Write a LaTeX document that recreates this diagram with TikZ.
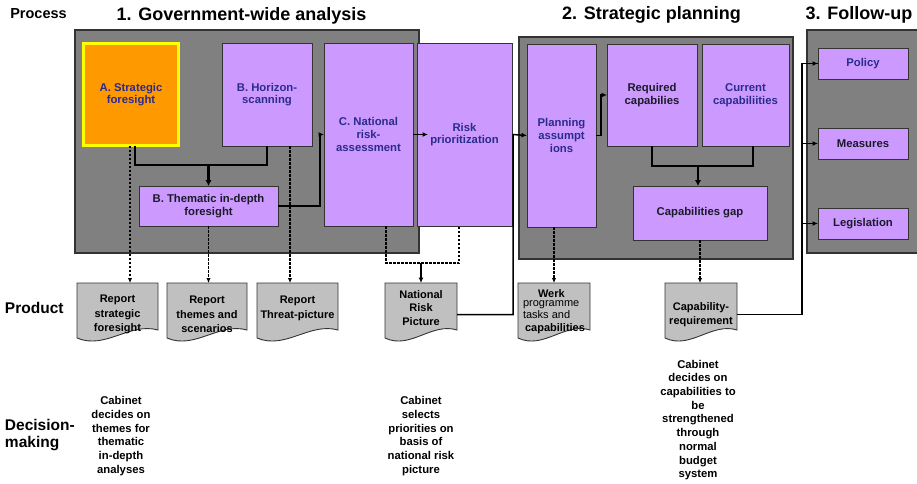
\documentclass[tikz,border=0pt]{standalone}
\usepackage{fontspec}
\setmainfont{Liberation Sans}
\usetikzlibrary{positioning,calc,arrows.meta}

\definecolor{panelgray}{HTML}{808080}
\definecolor{boxpurple}{HTML}{CC99FF}
\definecolor{docgray}{HTML}{C0C0C0}
\definecolor{foreorange}{HTML}{FF9900}
\definecolor{foreyellow}{HTML}{FFFF00}
\definecolor{navytext}{HTML}{2B2B8C}
\definecolor{darktext}{HTML}{1A1A2A}

\newcommand\boxfont{\fontsize{11.3}{12.6}\selectfont\bfseries}
\newcommand\docfont{\fontsize{11}{14.5}\selectfont\bfseries}
\newcommand\titlefont{\fontsize{18}{20}\selectfont\bfseries}
\newcommand\rowfont{\fontsize{15.5}{16.5}\selectfont\bfseries}
\newcommand\decfont{\fontsize{11.3}{13.7}\selectfont\bfseries}

\pgfdeclarelayer{background}
\pgfsetlayers{background,main}

\begin{document}
\begin{tikzpicture}[x=1pt,y=-1pt,
    every node/.style={inner sep=0pt,outer sep=0pt,align=center},
    panel/.style={draw=black!80,line width=1.2pt,fill=panelgray},
    procbox/.style={draw=black!80,line width=0.9pt,fill=boxpurple,font=\boxfont,text=darktext},
    navybox/.style={procbox,text=navytext},
    docbox/.style={minimum height=55,font=\docfont},
    docshape/.style={draw=black!80,line width=0.9pt,fill=docgray},
    link/.style={line width=1.5pt},
    arr/.style={link,-{Latex[length=5.5pt,width=5pt]}},
    bigarr/.style={line width=2.6pt,-{Latex[length=6pt,width=6.5pt]}},
    dashlink/.style={link,dash pattern=on 2.5pt off 1.5pt,-{Latex[length=5pt,width=4.5pt]}}]
    \useasboundingbox (0,0) rectangle (917,483);

    % headings
    \node[font=\fontsize{14.5}{16}\selectfont\bfseries] (process) at (38.5,14) {Process};
    \node[font=\titlefont] (phase1) at (241.5,16) {1. Government-wide analysis};
    \node[font=\titlefont] (phase2) at (651.5,15) {2. Strategic planning};
    \node[font=\titlefont] (phase3) at (859,15) {3. Follow-up};
    \node[font=\rowfont,anchor=west] (product) at (5,308) {Product};
    \node[font=\rowfont,anchor=west,align=left] (decision) at (5,435) {Decision-\\making};

    % phase panels
    \draw[panel] (75,30) rectangle (419,253);
    \draw[panel] (519,37) rectangle (793,259);
    \draw[panel] (807,30) rectangle (930,253);

    % process boxes
    \node[navybox,fill=foreorange,draw=foreyellow,line width=3pt,minimum width=95,minimum height=102] (strat) at (131,94.5) {A. Strategic\\foresight};
    \node[navybox,minimum width=90,minimum height=103] (horizon) at (267,94.5) {B. Horizon-\\scanning};
    \node[procbox,minimum width=139,minimum height=40] (thematic) at (208.5,206) {B. Thematic in-depth\\foresight};
    \node[navybox,minimum width=89,minimum height=183] (natrisk) at (368.5,134.5) {C. National\\risk-\\assessment};
    \node[navybox,minimum width=95,minimum height=183] (prior) at (464.5,134.5) {Risk\\prioritization};
    \node[navybox,minimum width=69,minimum height=183] (planning) at (561.5,135.5) {Planning\\assumpt\\ions};
    \node[procbox,minimum width=90,minimum height=102] (required) at (652,95) {Required\\capabilies};
    \node[navybox,minimum width=87,minimum height=102] (current) at (745.5,95) {Current\\capabiliities};
    \node[procbox,minimum width=134,minimum height=54] (gap) at (700,213) {Capabilities gap};
    \node[navybox,minimum width=90,minimum height=31] (policy) at (863,63.5) {Policy};
    \node[procbox,minimum width=90,minimum height=31] (measures) at (863,143.5) {Measures};
    \node[procbox,minimum width=90,minimum height=31] (legislation) at (863,223.5) {Legislation};

    % products
    \node[docbox,minimum width=81] (repstrat) at (117.5,314.5) {Report\\strategic\\foresight};
    \node[docbox,minimum width=80] (reptheme) at (207,314.5) {Report\\themes and\\scenarios};
    \node[docbox,minimum width=81] (repthreat) at (297.5,314.5) {Report\\Threat-picture\\[0pt]};
    \node[docbox,minimum width=72,font=\fontsize{11}{13.5}\selectfont\bfseries] (riskpic) at (421,314.5) {National\\Risk\\Picture\\[0pt]};
    \node[docbox,minimum width=72,align=left,font=\fontsize{11}{9.6}\selectfont] (werk) at (554,314.5) {\hspace*{15pt}\textbf{Werk}\\programme\\tasks and\\[4pt]\hspace*{2pt}\textbf{capabilities}\\[-1.6pt]};
    \node[docbox,minimum width=72] (capreq) at (701,314.5) {Capability-\\requirement};
    \begin{pgfonlayer}{background}
        \foreach \d in {repstrat,reptheme,repthreat,riskpic,werk,capreq}
            \draw[docshape] ([yshift=4pt]\d.north west) -- ([yshift=4pt]\d.north east) -- ([yshift=12pt]\d.south east)
                .. controls ($(\d.south east)!0.35!(\d.south west)+(0,-20)$) and ($(\d.south east)!0.65!(\d.south west)+(0,8)$) .. ([yshift=4pt]\d.south west) -- cycle;
    \end{pgfonlayer}

    % decisions
    \node[font=\decfont] (dec1) at (121,436) {Cabinet\\decides on\\themes for\\thematic\\in-depth\\analyses};
    \node[font=\decfont] (dec2) at (421,436) {Cabinet\\selects\\priorities on\\basis of\\national risk\\picture};
    \node[font=\decfont] (dec3) at (698,420) {Cabinet\\decides on\\capabilities to\\be\\strengthened\\through\\normal\\budget\\system};

    % connectors
    \coordinate (forejoin) at (208.5,165);
    \coordinate (capjoin) at (698,166);
    \coordinate (riskjoin) at (421,263);
    \draw[link] ([xshift=4]strat.south) |- (forejoin) -| (horizon.south);
    \draw[bigarr] (forejoin) -- (thematic.north);
    \draw[arr] (thematic.east) -- ++(42,0) |- (natrisk.west);
    \draw[arr] (natrisk.east) -- ([xshift=11]prior.west);
    \draw[arr] (riskpic.east) -| ([xshift=1]prior.east) -- (planning.west);
    \draw[arr] (planning.east) -- ++(5,0) |- (required.west);
    \draw[link] (required.south) |- (capjoin) -| ([xshift=7.5]current.south);
    \draw[bigarr] (capjoin) -- (capjoin |- gap.north);
    \draw[link] (capreq.east) -- ++(65,0) coordinate (fu) |- (policy.west);
    \draw[arr] (fu |- policy.west) -- (policy.west);
    \draw[arr] (fu |- measures.west) -- (measures.west);
    \draw[arr] (fu |- legislation.west) -- (legislation.west);
    \draw[arr] (riskjoin) -- ([yshift=4]riskpic.north);

    % dashed product flows
    \draw[dashlink] ([xshift=-1]strat.south) -- ([xshift=-1,yshift=4]strat.south |- repstrat.north);
    \draw[dashlink] (thematic.south) -- ([yshift=4]thematic.south |- reptheme.north);
    \draw[dashlink] ([xshift=23]horizon.south) -- ([xshift=23,yshift=4]horizon.south |- repthreat.north);
    \draw[dashlink,-] ([xshift=17.5]natrisk.south) |- (riskjoin) -| ([xshift=-5.5]prior.south);
    \draw[dashlink] (werk.north |- planning.south) -- ([yshift=4]werk.north);
    \draw[dashlink] (gap.south) -- ([yshift=4]gap.south |- capreq.north);
\end{tikzpicture}
\end{document}
